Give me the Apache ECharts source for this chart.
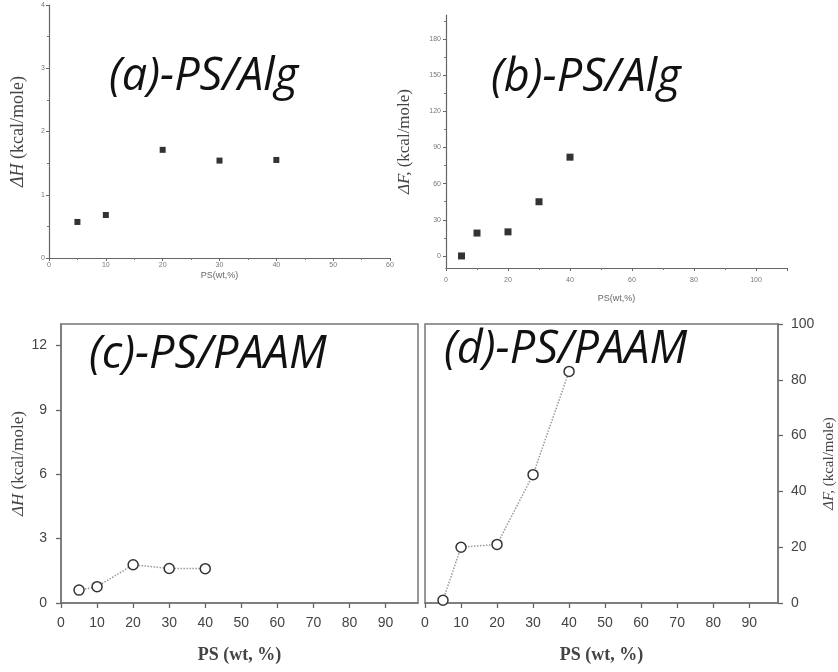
<!DOCTYPE html>
<html>
<head>
<meta charset="utf-8">
<script src="https://cdn.jsdelivr.net/npm/echarts@6/dist/echarts.min.js"></script>
<style>
    html, body { margin: 0; padding: 0; background: #fff; }
    #chart { width: 838px; height: 672px; }
</style>
</head>
<body>
<div id="chart"></div>
<script>
    // PS content (wt %), same for all four panels
    var psContent = [5, 10, 20, 30, 40];
    // (a) PS/Alg  enthalpy
    var dH_alg = [0.57, 0.68, 1.71, 1.54, 1.55];
    // (b) PS/Alg  free energy
    var dF_alg = [0, 19, 20, 45, 82];
    // (c) PS/PAAM enthalpy
    var dH_paam = [0.6, 0.76, 1.78, 1.61, 1.6];
    // (d) PS/PAAM free energy
    var dF_paam = [1, 20, 21, 46, 83];

    // tick labels
    var ticksB_x = [0, 20, 40, 60, 80, 100];
    var ticksB_y = [0, 30, 60, 90, 120, 150, 180];
    var ticksB_yMinor = [15, 45, 75, 105, 135, 165, 195];
    var ticksC_y = [0, 3, 6, 9, 12];
    var ticksCD_x = [0, 10, 20, 30, 40, 50, 60, 70, 80, 90];

    function pairs(xs, ys) {
        var out = [];
        for (var i = 0; i < xs.length; i++) {
            out.push([xs[i], ys[i]]);
        }
        return out;
    }

    var chart = echarts.init(document.getElementById('chart'));

    var smallAxis = function (extra) {
        var base = {
            axisLine: { show: true, onZero: false, lineStyle: { color: '#666', width: 1.2 } },
            axisTick: { show: true, length: 3, lineStyle: { color: '#666' } },
            minorTick: { show: true, splitNumber: 2, length: 2, lineStyle: { color: '#777' } },
            axisLabel: { color: '#777', fontSize: 7, fontFamily: 'Liberation Sans', margin: 4 },
            splitLine: { show: false },
            nameLocation: 'middle'
        };
        for (var k in extra) base[k] = extra[k];
        return base;
    };

    var bigAxis = function (extra) {
        var base = {
            axisLine: { show: true, onZero: false, lineStyle: { color: '#777', width: 1.5 } },
            axisTick: { show: true, length: 5, lineStyle: { color: '#666', width: 1.3 } },
            axisLabel: { color: '#444', fontSize: 14, fontFamily: 'Liberation Sans', margin: 8 },
            splitLine: { show: false },
            nameLocation: 'middle'
        };
        for (var k in extra) base[k] = extra[k];
        return base;
    };

    function serifName(size) {
        return {
            fontFamily: 'Liberation Serif',
            fontSize: size,
            color: '#444',
            rich: {
                i: { fontFamily: 'Liberation Serif', fontStyle: 'italic', fontSize: size, color: '#444' }
            }
        };
    }

    var titleStyle = { fontFamily: 'Open Sans', fontStyle: 'italic', fontWeight: 'normal', fontSize: 45, color: '#111' };
    var bigName = { fontFamily: 'Liberation Serif', fontSize: 18, fontWeight: 'bold', color: '#444' };

    var option = {
        animation: false,
        title: [
            { text: '(a)-PS/Alg', left: 104, top: 50, textStyle: titleStyle },
            { text: '(b)-PS/Alg', left: 486, top: 51, textStyle: titleStyle },
            { text: '(c)-PS/PAAM', left: 84, top: 328, textStyle: titleStyle },
            { text: '(d)-PS/PAAM', left: 439, top: 323, textStyle: titleStyle }
        ],
        grid: [
            { left: 49, top: 5, width: 341, height: 253 },
            { left: 446, top: 15, width: 341, height: 253 },
            { left: 61, top: 324, width: 357, height: 279, show: true, borderColor: '#777', borderWidth: 1.5 },
            { left: 425, top: 324, width: 353, height: 279, show: true, borderColor: '#777', borderWidth: 1.5 }
        ],
        xAxis: [
            smallAxis({
                gridIndex: 0, type: 'value', min: 0, max: 60, interval: 10,
                name: 'PS(wt,%)', nameGap: 13,
                nameTextStyle: { fontFamily: 'Liberation Sans', fontSize: 9, color: '#666' }
            }),
            smallAxis({
                gridIndex: 1, type: 'value', min: 0, max: 110, interval: 20,
                name: 'PS(wt,%)', nameGap: 26,
                nameTextStyle: { fontFamily: 'Liberation Sans', fontSize: 9, color: '#666' },
                axisLabel: { color: '#777', fontSize: 7, fontFamily: 'Liberation Sans', margin: 9, customValues: ticksB_x }
            }),
            bigAxis({
                gridIndex: 2, type: 'value', min: 0, max: 99,
                axisTick: { show: true, length: 5, customValues: ticksCD_x, lineStyle: { color: '#666', width: 1.3 } },
                axisLabel: { color: '#444', fontSize: 14, fontFamily: 'Liberation Sans', margin: 13, customValues: ticksCD_x },
                name: 'PS (wt, %)', nameGap: 43, nameTextStyle: bigName
            }),
            bigAxis({
                gridIndex: 3, type: 'value', min: 0, max: 98,
                axisTick: { show: true, length: 5, customValues: ticksCD_x, lineStyle: { color: '#666', width: 1.3 } },
                axisLabel: { color: '#444', fontSize: 14, fontFamily: 'Liberation Sans', margin: 13, customValues: ticksCD_x },
                name: 'PS (wt, %)', nameGap: 43, nameTextStyle: bigName
            })
        ],
        yAxis: [
            smallAxis({
                gridIndex: 0, type: 'value', min: 0, max: 4, interval: 1,
                name: '{i|ΔH} (kcal/mole)', nameGap: 22, nameTextStyle: serifName(18)
            }),
            smallAxis({
                gridIndex: 1, type: 'value', min: -10, max: 200, position: 'left',
                minorTick: { show: false },
                axisTick: { show: true, length: 3, customValues: ticksB_y, lineStyle: { color: '#666' } },
                axisLabel: { color: '#777', fontSize: 7, fontFamily: 'Liberation Sans', margin: 5, customValues: ticksB_y },
                name: '{i|ΔF,} (kcal/mole)', nameGap: 33, nameTextStyle: serifName(17)
            }),
            // minor ticks for (b)
            {
                gridIndex: 1, type: 'value', min: -10, max: 200, position: 'left',
                axisLine: { show: false, onZero: false },
                axisTick: { show: true, length: 2, customValues: ticksB_yMinor, lineStyle: { color: '#777' } },
                axisLabel: { show: false },
                splitLine: { show: false }
            },
            bigAxis({
                gridIndex: 2, type: 'value', min: 0, max: 13,
                axisTick: { show: true, length: 5, customValues: ticksC_y, lineStyle: { color: '#666', width: 1.3 } },
                axisLabel: { color: '#444', fontSize: 14, fontFamily: 'Liberation Sans', margin: 14, customValues: ticksC_y },
                name: '{i|ΔH} (kcal/mole)', nameGap: 27, nameTextStyle: serifName(17)
            }),
            bigAxis({
                gridIndex: 3, type: 'value', position: 'right', min: 0, max: 100, interval: 20,
                axisLabel: { color: '#444', fontSize: 14, fontFamily: 'Liberation Sans', margin: 13 },
                name: '{i|ΔF,} (kcal/mole)', nameGap: 44, nameTextStyle: serifName(15)
            })
        ],
        series: [
            {
                type: 'scatter', xAxisIndex: 0, yAxisIndex: 0,
                symbol: 'rect', symbolSize: 6,
                itemStyle: { color: '#000' },
                data: pairs(psContent, dH_alg)
            },
            {
                type: 'scatter', xAxisIndex: 1, yAxisIndex: 1,
                symbol: 'rect', symbolSize: 7,
                itemStyle: { color: '#000' },
                data: pairs(psContent, dF_alg)
            },
            {
                type: 'line', xAxisIndex: 2, yAxisIndex: 3,
                symbol: 'circle', symbolSize: 10,
                itemStyle: { color: '#fff', borderColor: '#333', borderWidth: 1.5 },
                lineStyle: { color: '#999', width: 1.5, type: 'dotted' },
                data: pairs(psContent, dH_paam)
            },
            {
                type: 'line', xAxisIndex: 3, yAxisIndex: 4,
                symbol: 'circle', symbolSize: 10,
                itemStyle: { color: '#fff', borderColor: '#333', borderWidth: 1.5 },
                lineStyle: { color: '#999', width: 1.5, type: 'dotted' },
                data: pairs(psContent, dF_paam)
            }
        ]
    };

    chart.setOption(option);
</script>
</body>
</html>
